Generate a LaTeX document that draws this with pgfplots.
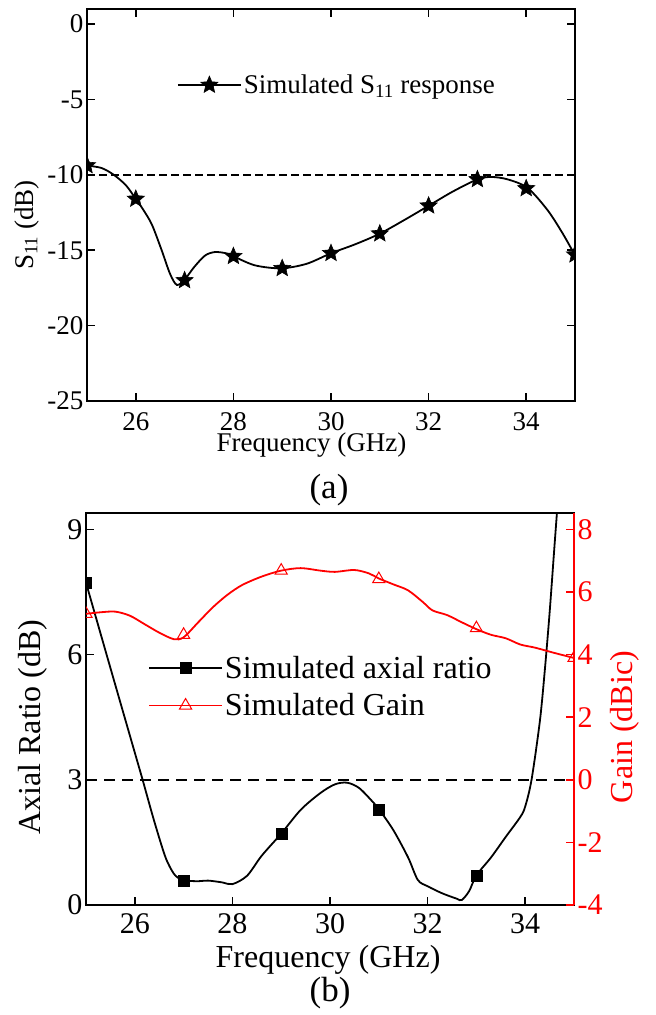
\documentclass[border=0pt]{standalone}
\usepackage{fontspec}
\setmainfont{Liberation Serif}
\usepackage{pgfplots}
\pgfplotsset{compat=1.18}
\pgfdeclareplotmark{fstar}{%
  \pgfpathmoveto{\pgfpointpolar{90}{\pgfplotmarksize}}%
  \pgfpathlineto{\pgfpointpolar{126}{0.45*\pgfplotmarksize}}%
  \pgfpathlineto{\pgfpointpolar{162}{\pgfplotmarksize}}%
  \pgfpathlineto{\pgfpointpolar{198}{0.45*\pgfplotmarksize}}%
  \pgfpathlineto{\pgfpointpolar{234}{\pgfplotmarksize}}%
  \pgfpathlineto{\pgfpointpolar{270}{0.45*\pgfplotmarksize}}%
  \pgfpathlineto{\pgfpointpolar{306}{\pgfplotmarksize}}%
  \pgfpathlineto{\pgfpointpolar{342}{0.45*\pgfplotmarksize}}%
  \pgfpathlineto{\pgfpointpolar{18}{\pgfplotmarksize}}%
  \pgfpathlineto{\pgfpointpolar{54}{0.45*\pgfplotmarksize}}%
  \pgfpathclose
  \pgfusepathqfillstroke}
\pgfplotsset{
  common/.style={
    scale only axis, width=488pt, height=392pt, anchor=south west,
    xmin=25, xmax=35, xtick={26,28,30,32,34},
    tick align=inside, major tick length=8pt,
    axis line style={line width=1.8pt},
    every tick/.style={line width=1.5pt},
    /pgf/number format/assume math mode=true,
    clip marker paths=true,
  },
}
\begin{document}
\begin{tikzpicture}
\path[use as bounding box] (0,0) rectangle (656pt,-1015pt);

% ---------- (a) ----------
\begin{axis}[common,
  at={(87pt,-401pt)},
  ymin=-25, ymax=1, ytick={-25,-20,-15,-10,-5,0},
  tick label style={font=\fontsize{27}{30}\selectfont},
  xticklabel style={yshift=-8pt},
  xlabel={Frequency (GHz)}, ylabel={S\textsubscript{11} (dB)},
  label style={font=\fontsize{27}{30}\selectfont},
  xlabel style={at={(axis description cs:0.46,-0.113)}, anchor=center},
  ylabel style={at={(axis description cs:-0.123,0.449)}, anchor=center},
  legend style={at={(axis description cs:0.184,0.806)}, anchor=west, draw=none, fill=none,
    inner sep=0pt, font=\fontsize{27}{30}\selectfont, nodes={inner sep=2pt}},
  legend cell align=left,
  legend image code/.code={\draw[#1, mark=none] (0pt,0pt) -- (63pt,0pt); \draw[#1] plot coordinates {(31.5pt,0pt)};},
]
\addplot[black, line width=1.8pt, dash pattern=on 8pt off 4pt, forget plot] coordinates {(25,-10) (35,-10)};
\addplot[black, line width=1.8pt, smooth, forget plot] coordinates {
(25,-9.38) (25.3,-9.55) (25.55,-10.0) (25.8,-10.7) (26.0,-11.6) (26.15,-12.3)
(26.33,-13.3) (26.53,-15.0) (26.70,-16.55) (26.84,-17.3) (27.0,-16.95) (27.2,-16.1)
(27.42,-15.35) (27.62,-15.12) (27.85,-15.2) (28.0,-15.4) (28.44,-16.0) (28.98,-16.2)
(29.5,-15.9) (30.0,-15.2) (30.5,-14.6) (31.0,-13.9) (31.5,-13.0) (32.0,-12.05)
(32.5,-11.1) (33.0,-10.3) (33.28,-10.14) (33.62,-10.3) (34.03,-10.87) (34.44,-12.35)
(34.75,-13.9) (35.0,-15.34)};
\addplot[black, only marks, mark=fstar, mark size=9pt, mark options={line width=0.6pt}, forget plot] coordinates {
(25,-9.38) (26,-11.6) (27,-17.0) (28,-15.4) (29,-16.2) (30,-15.2) (31,-13.9)
(32,-12.05) (33,-10.3) (34,-10.9) (35,-15.3)};
\addlegendimage{black, line width=1.8pt, mark=fstar, mark size=9pt, mark options={line width=0.6pt}}
\addlegendentry{Simulated S\textsubscript{11} response}
\end{axis}

\node[font=\fontsize{35}{38}\selectfont] at (329pt,-490pt) {(a)};

% ---------- (b) left axis ----------
\begin{axis}[common,
  at={(86pt,-905pt)},
  ymin=0, ymax=9.39, ytick={0,3,6,9},
  xtick pos=bottom, ytick pos=left,
  tick label style={font=\fontsize{30}{33}\selectfont},
  xticklabel style={yshift=-5pt},
  xlabel={Frequency (GHz)}, ylabel={Axial Ratio (dB)},
  label style={font=\fontsize{32}{35}\selectfont},
  xlabel style={at={(axis description cs:0.496,-0.14)}, anchor=center},
  ylabel style={at={(axis description cs:-0.108,0.454)}, anchor=center},
]
\addplot[black, line width=1.8pt, dash pattern=on 11pt off 7pt] coordinates {(25,3) (35,3)};
\addplot[black, line width=1.8pt, smooth] coordinates {
(25,7.72) (25.5,5.68) (26,3.65) (26.16,3.0) (26.4,2.0) (26.63,1.14) (26.8,0.75)
(26.93,0.62) (27,0.585) (27.3,0.57) (27.5,0.585) (27.8,0.54) (28,0.50) (28.3,0.70)
(28.6,1.18) (29,1.71) (29.4,2.28) (29.8,2.68) (30.1,2.89) (30.35,2.93) (30.6,2.80)
(30.9,2.44) (31,2.30) (31.3,1.79) (31.6,1.14) (31.8,0.60) (32,0.45) (32.3,0.28)
(32.6,0.15) (32.7,0.12) (32.85,0.33) (33,0.71) (33.3,1.14) (33.6,1.63) (33.9,2.11)
(34.0,2.36) (34.13,3.0) (34.3,4.4) (34.4,5.6) (34.5,7.0) (34.6,8.6) (34.65,9.39)};
\addplot[black, only marks, mark=square*, mark size=5.5pt] coordinates {
(25,7.72) (27,0.585) (29,1.71) (31,2.28) (33,0.71)};
\end{axis}

% ---------- (b) right axis ----------
\begin{axis}[common,
  at={(86pt,-905pt)},
  ymin=-4, ymax=8.52, ytick={-4,-2,0,2,4,6,8},
  axis x line=none, axis y line*=right,
  y axis line style={red, line width=1.8pt},
  ytick style={red, line width=1.5pt},
  yticklabel style={red, font=\fontsize{30}{33}\selectfont},
  ylabel={Gain (dBic)},
  ylabel style={red, font=\fontsize{32}{35}\selectfont, at={(axis description cs:1.105,0.454)}, anchor=center},
  legend style={at={(axis description cs:0.127,0.557)}, anchor=west, draw=none, fill=none,
    inner sep=0pt, font=\fontsize{32}{35}\selectfont, nodes={inner sep=2pt}, row sep=10pt},
  legend cell align=left,
]
\addlegendimage{legend image code/.code={%
  \draw[black, line width=1.8pt] (0pt,0pt) -- (73pt,0pt);
  \draw[black] plot[mark=square*, mark size=5.5pt] coordinates {(36.5pt,0pt)};}}
\addlegendentry{Simulated axial ratio\hspace*{4pt}}
\addplot[red, line width=1.8pt, smooth, forget plot] coordinates {
(25,5.30) (25.3,5.35) (25.6,5.37) (25.9,5.24) (26.2,4.97) (26.5,4.70) (26.8,4.49)
(27,4.55) (27.3,5.03) (27.6,5.51) (27.9,5.91) (28.2,6.22) (28.6,6.49) (29,6.68)
(29.4,6.76) (29.8,6.68) (30.1,6.64) (30.5,6.70) (30.8,6.59) (31,6.43) (31.3,6.24)
(31.6,6.05) (31.9,5.68) (32.1,5.41) (32.4,5.26) (32.7,5.03) (33,4.81) (33.3,4.63)
(33.6,4.52) (33.9,4.32) (34.2,4.22) (34.6,4.05) (35,3.89)};
\addplot[red, only marks, mark=triangle, mark size=7pt, mark options={fill=white, line width=1pt}, forget plot] coordinates {
(25,5.30) (27,4.63) (29,6.68) (31,6.41) (33,4.84) (35,3.89)};
\addlegendimage{legend image code/.code={%
  \draw[red, line width=1.8pt] (0pt,0pt) -- (73pt,0pt);
  \draw[red, line width=1pt] plot[mark=triangle, mark size=7pt, mark options={fill=white}] coordinates {(36.5pt,0pt)};}}
\addlegendentry{Simulated Gain}
\end{axis}

\node[font=\fontsize{35}{38}\selectfont] at (330pt,-993pt) {(b)};
\end{tikzpicture}
\end{document}
